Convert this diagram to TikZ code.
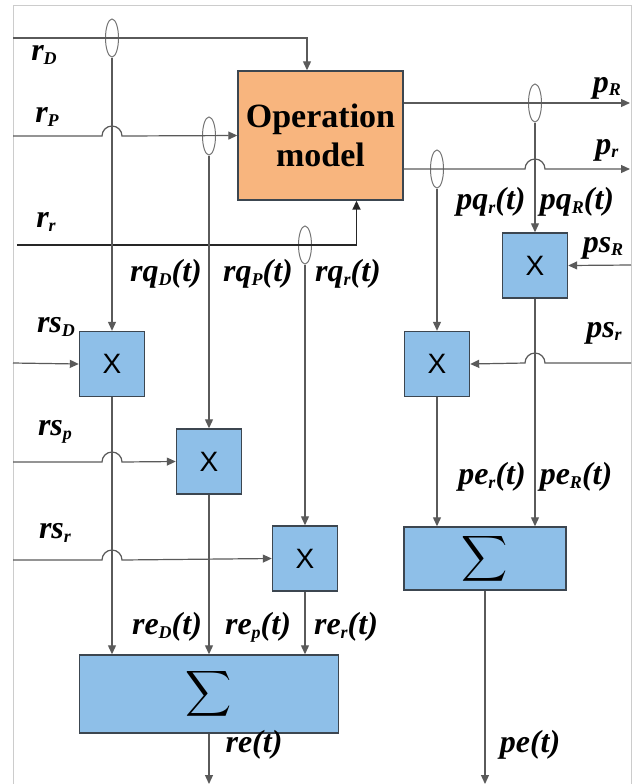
\documentclass[tikz,border=0pt]{standalone}
\usepackage{graphicx}
\usepackage{fontspec}
\setmainfont{Liberation Serif}
\setsansfont{Liberation Sans}
\usetikzlibrary{arrows.meta,positioning,shapes.geometric}
\definecolor{opmorange}{HTML}{F8B57E}
\definecolor{mulblue}{HTML}{8EBFE8}
\definecolor{boxline}{HTML}{3C4650}
\definecolor{wiregray}{HTML}{5A5A5A}
\newcommand{\sub}[1]{\raisebox{-0.25ex}{\fontsize{9}{9}\selectfont#1}}
\newcommand{\bigsum}{\scalebox{1.6}{$\displaystyle\sum$}}
\newcommand{\hop}[1]{-- ([xshift=-5pt]#1) arc[start angle=180,end angle=0,radius=5pt]}
\newcommand{\hopl}[1]{-- ([xshift=5pt]#1) arc[start angle=0,end angle=180,radius=5pt]}

\begin{document}
\begin{tikzpicture}[x=0.5pt,y=-0.5pt,
  every node/.style={font=\fontsize{16}{18}\selectfont\bfseries\itshape},
  wire/.style={draw=wiregray,line width=0.6pt},
  arrow/.style={wire,-{Triangle[length=4.5pt,width=4pt]}},
  mul/.style={rectangle,draw=boxline,fill=mulblue,line width=0.7pt,
              minimum width=32.5pt,minimum height=32.5pt,inner sep=0pt,
              font=\sffamily\fontsize{14}{14}\selectfont},
  sum/.style={rectangle,draw=boxline,fill=mulblue,line width=0.7pt,
              inner sep=0pt,font=\normalfont},
  tap/.style={ellipse,draw=black!55,line width=0.5pt,minimum width=6.5pt,
              minimum height=19pt,inner sep=0pt},
  opmbox/.style={rectangle,draw=boxline,fill=opmorange,line width=0.7pt,
                 minimum width=82.5pt,minimum height=64.5pt,align=center,
                 font=\fontsize{17}{19.5}\selectfont\bfseries}
]
\useasboundingbox (0,0) rectangle (632,784);
\draw[black!20] (13,790) |- (631,5) -- (631,790);

\node[opmbox] (opm) at (320.5,135.5) {Operation\\model};

\node[mul] (mulD) at (112,364)   {X};
\node[mul] (mulP) at (209,461.5) {X};
\node[mul] (mulR) at (305,558.5) {X};
\node[mul] (mulpr) at (437,364)   {X};
\node[mul] (mulpR) at (535,265.5) {X};
\node[sum,minimum width=129.5pt,minimum height=39pt] (sumr) at (209,694) {\bigsum};
\node[sum,minimum width=81pt,minimum height=31.5pt] (sump) at (485,558.5) {\bigsum};

\node[tap] (tapD) at (112,38) {};
\node[tap] (tapP) at (209,136) {};
\node[tap] (tapr) at (305,245) {};
\node[tap] (tappR) at (535,103) {};
\node[tap] (tappr) at (437,169) {};

\coordinate (inrD) at (13,38);
\coordinate (inrP) at (13,136);
\coordinate (inrr) at (17,245);
\coordinate (inrsD) at (13,363);
\coordinate (inrsp) at (13,462);
\coordinate (inrsr) at (13,560);
\coordinate (inpsR) at (631,265);
\coordinate (inpsr) at (631,363);
\coordinate (outpR) at (630,103);
\coordinate (outpr) at (630,169);
\coordinate (outre) at (209,784);
\coordinate (outpe) at (485,784);

\draw[arrow] (inrD) -| ([xshift=-6.75pt]opm.north);
\draw[arrow] (inrP) \hop{tapD |- inrP} -- (opm.west);
\draw[arrow,draw=black!85,line width=0.9pt] (inrr) -| ([xshift=18pt]opm.south);
\draw[arrow] (opm.east |- outpR) -- (outpR);
\draw[arrow] (opm.east |- outpr) \hop{tappR |- outpr} -- (outpr);

\draw[arrow] (tapD) -- (mulD);
\draw[arrow] (tapP) -- (mulP);
\draw[arrow] (tapr) -- (mulR);
\draw[arrow] (tappR) -- (mulpR);
\draw[arrow] (tappr) -- (mulpr);

\draw[arrow] (inrsD) -- (mulD.west);
\draw[arrow] (inrsp) \hop{mulD |- inrsp} -- (mulP.west);
\draw[arrow] (inrsr) \hop{mulD |- inrsr} -- (mulR.west);
\draw[arrow] (inpsR) -- (mulpR.east);
\draw[arrow] (inpsr) \hopl{mulpR |- inpsr} -- (mulpr.east);

\foreach \m in {mulD,mulP,mulR} { \draw[arrow] (\m) -- (\m |- sumr.north); }
\foreach \m in {mulpr,mulpR} { \draw[arrow] (\m) -- (\m |- sump.north); }
\draw[arrow] (sumr) -- (outre);
\draw[arrow] (sump) -- (outpe);

\node (lrD) at (44,55)  {r\sub{D}};
\node (lrP) at (47,117) {r\sub{P}};
\node (lrr) at (46,222) {r\sub{r}};
\node (lrqD) at (166,274) {rq\sub{D}(t)};
\node (lrqP) at (258,274) {rq\sub{P}(t)};
\node (lrqr) at (348,274) {rq\sub{r}(t)};
\node (lrsD) at (56,327) {rs\sub{D}};
\node (lrsp) at (55,432) {rs\sub{p}};
\node (lrsr) at (55,533) {rs\sub{r}};
\node (lreD) at (167,627) {re\sub{D}(t)};
\node (lrep) at (258,627) {re\sub{p}(t)};
\node (lrer) at (346,627) {re\sub{r}(t)};
\node (lre) at (254,745) {re(t)};
\node (lpR) at (607,88)  {p\sub{R}};
\node (lpr) at (607,150) {p\sub{r}};
\node (lpqr) at (491,202) {pq\sub{r}(t)};
\node (lpqR) at (577,202) {pq\sub{R}(t)};
\node (lpsR) at (603,248) {ps\sub{R}};
\node (lpsr) at (604,333) {ps\sub{r}};
\node (lper) at (492,477) {pe\sub{r}(t)};
\node (lpeR) at (576,477) {pe\sub{R}(t)};
\node (lpe) at (530,745) {pe(t)};
\end{tikzpicture}
\end{document}
